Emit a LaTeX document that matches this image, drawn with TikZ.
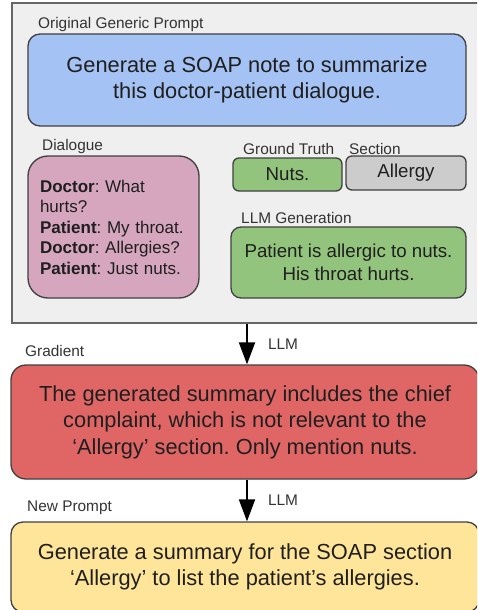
\documentclass[tikz,border=0pt]{standalone}
\usepackage{fontspec}
\setmainfont{Liberation Sans}
\usetikzlibrary{arrows.meta}
\frenchspacing

\definecolor{panelgray}{HTML}{EFEFEF}
\definecolor{promptblue}{HTML}{A4C2F4}
\definecolor{dialogpink}{HTML}{D5A6BD}
\definecolor{truthgreen}{HTML}{93C47D}
\definecolor{sectiongray}{HTML}{CCCCCC}
\definecolor{gradred}{HTML}{E06666}
\definecolor{newyellow}{HTML}{FFE599}

\newcommand\bigtext{\fontsize{21.8}{26.5}\selectfont}
\newcommand\midtext{\fontsize{18.7}{23}\selectfont}
\newcommand\smalltext{\fontsize{17}{20.5}\selectfont}
\newcommand\tagtext{\fontsize{15.4}{18}\selectfont}

\begin{document}
\begin{tikzpicture}[x=1pt, y=-1pt,
    box/.style={draw=black!75, line width=1.3pt, text=black!88, align=center, inner sep=0pt},
    tag/.style={anchor=west, inner sep=0pt, font=\tagtext, text=black!80},
    flow/.style={-{Triangle[length=22pt, width=16pt]}, line width=2pt}
  ]
    \clip (0,0) rectangle (477,610);
    \node[box, draw=black!60, fill=panelgray, minimum width=480pt, minimum height=320pt] (panel) at (252,163) {};

    \node[tag] (prompttag) at (38,25) {Original Generic Prompt};
    \node[box, fill=promptblue, rounded corners=12pt, minimum width=438pt, minimum height=92pt, font=\bigtext]
      (prompt) at (247,80) {Generate a SOAP note to summarize\\this doctor-patient dialogue.};

    \node[tag] (dialoguetag) at (42,147) {Dialogue};
    \node[box, fill=dialogpink, rounded corners=20pt, minimum width=171pt, minimum height=142pt,
      text width=147pt, align=left, font=\smalltext] (dialogue) at (113.5,227)
      {\textbf{Doctor}: What\\hurts?\\\textbf{Patient}: My throat.\\\textbf{Doctor}: Allergies?\\\textbf{Patient}: Just nuts.};

    \node[tag] (truthtag) at (243,149) {Ground Truth};
    \node[tag] (sectiontag) at (349,149) {Section};
    \node[box, fill=truthgreen, rounded corners=6pt, minimum width=109pt, minimum height=33pt, font=\midtext]
      (truth) at (287.5,174.5) {Nuts.};
    \node[box, fill=sectiongray, rounded corners=6pt, minimum width=120pt, minimum height=34pt, font=\midtext]
      (section) at (406,173) {Allergy};

    \node[tag] (gentag) at (241,218) {LLM Generation};
    \node[box, fill=truthgreen, rounded corners=10pt, minimum width=235pt, minimum height=71pt, font=\midtext]
      (gen) at (348.5,262.5) {Patient is allergic to nuts.\\His throat hurts.};

    \node[tag] (gradtag) at (25,351) {Gradient};
    \node[box, fill=gradred, rounded corners=15pt, minimum width=468pt, minimum height=114pt, font=\bigtext]
      (grad) at (245,422) {The generated summary includes the chief\\complaint, which is not relevant to the\\`Allergy' section. Only mention nuts.};

    \node[tag] (newtag) at (27,508) {New Prompt};
    \node[box, fill=newyellow, rounded corners=12pt, minimum width=468pt, minimum height=90pt, font=\bigtext]
      (newprompt) at (245,567) {Generate a summary for the SOAP section\\`Allergy' to list the patient's allergies.};

    \draw[flow] (panel.south -| prompt.south) -- (grad.north -| prompt.south)
      node[midway, right=20pt, inner sep=0pt, font=\tagtext, text=black!80] {LLM};
    \draw[flow] (grad.south -| prompt.south) -- (newprompt.north -| prompt.south)
      node[midway, right=20pt, inner sep=0pt, font=\tagtext, text=black!80] {LLM};
  \end{tikzpicture}
\end{document}
